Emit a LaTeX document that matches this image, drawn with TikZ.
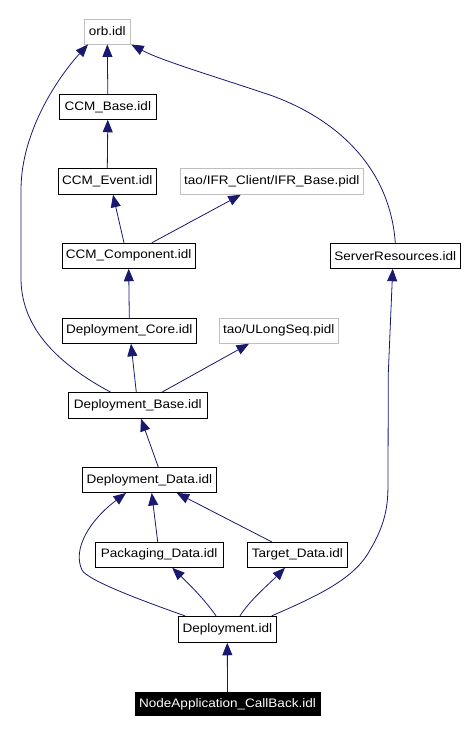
\documentclass[tikz,border=0pt]{standalone}
\usepackage{fontspec}
\newfontfamily\labfont[FakeStretch=1.1]{Liberation Sans}
\usetikzlibrary{arrows.meta}
\definecolor{edgeblue}{HTML}{191970}
\definecolor{ghost}{HTML}{BFBFBF}
\tikzset{
  box/.style={draw=black, line width=0.9pt, fill=white, minimum height=25pt, inner sep=0pt,
    font=\labfont\fontsize{12.3}{14}\selectfont},
  extbox/.style={box, draw=ghost},
  mainbox/.style={box, fill=black, text=white, draw=black},
  edge/.style={draw=edgeblue, line width=0.8pt, -{Triangle[length=12.5pt,width=10pt]}}
}
\begin{document}
\begin{tikzpicture}[x=1pt,y=-1pt]
\useasboundingbox (0,0) rectangle (467,734);
\node[extbox, minimum width=46pt] (orb) at (107.3,31.5) {orb.idl};
\node[box, minimum width=97pt] (ccmbase) at (107.8,106.8) {CCM\_Base.idl};
\node[box, minimum width=98pt, minimum height=26pt] (ccmevent) at (107.3,181.3) {CCM\_Event.idl};
\node[extbox, minimum width=183pt, minimum height=26pt] (ifr) at (271.8,181.3) {tao/IFR\_Client/IFR\_Base.pidl};
\node[box, minimum width=133.3pt] (ccmcomp) at (128.7,255.8) {CCM\_Component.idl};
\node[box, minimum width=130pt] (server) at (395.3,255.8) {ServerResources.idl};
\node[box, minimum width=134pt] (core) at (129.3,330.8) {Deployment\_Core.idl};
\node[extbox, minimum width=119pt] (ulong) at (278.8,330.8) {tao/ULongSeq.pidl};
\node[box, minimum width=139pt, minimum height=25.6pt] (base) at (137.8,405.5) {Deployment\_Base.idl};
\node[box, minimum width=134pt] (data) at (149.3,480) {Deployment\_Data.idl};
\node[box, minimum width=127.7pt] (pack) at (159.2,554.8) {Packaging\_Data.idl};
\node[box, minimum width=100pt] (target) at (297.3,554.8) {Target\_Data.idl};
\node[box, minimum width=98pt, minimum height=26pt] (dep) at (227.3,629.3) {Deployment.idl};
\node[mainbox, minimum width=185pt, minimum height=23.4pt] (nodeapp) at (227.5,704) {NodeApplication\_CallBack.idl};

% edges
\draw[edge] (ccmbase.north) -- (orb.south);
\draw[edge] (ccmevent.north) -- (ccmbase.south);
\draw[edge] ([xshift=-4.7pt]ccmcomp.north) -- ([xshift=5.7pt]ccmevent.south);
\draw[edge] ([xshift=23pt]ccmcomp.north) -- ([xshift=-31pt]ifr.south);
\draw[edge] (core.north) -- (ccmcomp.south);
\draw[edge] ([xshift=-1.5pt]base.north) -- ([xshift=1.7pt]core.south);
\draw[edge] ([xshift=24pt]base.north) -- ([xshift=-29.8pt]ulong.south);
\draw[edge] ([xshift=-27pt]base.north) .. controls (60,365) and (22,330) .. (21,280)
   -- (21,190) .. controls (21,130) and (60,75) .. ([xshift=-19.3pt]orb.south);
\draw[edge] (server.north) .. controls (390,170) and (340,120) .. (270,95)
   .. controls (210,75) and (160,60) .. ([xshift=0.5pt]orb.south east);
\draw[edge] ([xshift=9pt]data.north) -- ([xshift=3.2pt]base.south);
\draw[edge] ([xshift=-1.5pt]pack.north) -- ([xshift=2.4pt]data.south);
\draw[edge] ([xshift=-25.6pt]target.north) -- ([xshift=27.4pt]data.south);
\draw[edge] ([xshift=-42.3pt]dep.north) .. controls (140,600) and (87,580) .. (82,570)
   .. controls (72,549) and (90,520) .. ([xshift=-23.3pt]data.south);
\draw[edge] ([xshift=-11.3pt]dep.north) .. controls (205,600) and (190,585) .. ([xshift=13pt]pack.south);
\draw[edge] ([xshift=12.7pt]dep.north) .. controls (250,600) and (268,585) .. ([xshift=-12.3pt]target.south);
\draw[edge] ([xshift=44.4pt]dep.north) .. controls (320,595) and (355,578) .. (370,550)
   .. controls (388,520) and (388,500) .. (388,480) -- (388.3,373) -- ([xshift=-2.6pt]server.south);
\draw[edge] (nodeapp.north) -- (dep.south);
\end{tikzpicture}
\end{document}
